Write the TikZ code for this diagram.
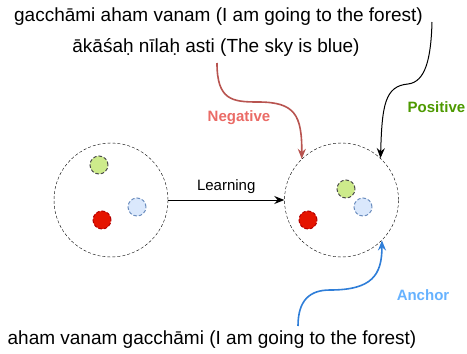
\documentclass[tikz,border=0pt]{standalone}
\usepackage{fontspec}
\setmainfont{Liberation Sans}
\usetikzlibrary{arrows.meta}
\definecolor{negline}{HTML}{B85450}
\definecolor{negtext}{HTML}{EA6B66}
\definecolor{postext}{HTML}{4D9900}
\definecolor{ancline}{HTML}{2F7ED8}
\definecolor{anctext}{HTML}{66B2FF}
\definecolor{greenfill}{HTML}{CDEB8B}
\definecolor{bluefill}{HTML}{DAE8FC}
\definecolor{blueline}{HTML}{6C8EBF}
\definecolor{redfill}{HTML}{E51400}
\definecolor{redline}{HTML}{B20000}
\tikzset{
  sentence/.style={font=\fontsize{19}{22}\selectfont, inner sep=0pt, anchor=base},
  lbl/.style={font=\fontsize{15}{18}\selectfont\bfseries, inner sep=0pt},
  space/.style={circle, draw, dashed, dash pattern=on 3pt off 2pt, minimum size=114pt, inner sep=0pt},
  dot/.style={circle, dashed, dash pattern=on 3.5pt off 2pt, line width=1pt, minimum size=18pt, inner sep=0pt},
  gdot/.style={dot, draw=black!70, fill=greenfill},
  bdot/.style={dot, draw=blueline, fill=bluefill},
  rdot/.style={dot, draw=redline, fill=redfill},
  conn/.style={line width=1pt, -{Stealth[length=10pt,width=8pt]}},
  thickconn/.style={line width=1.6pt, -{Stealth[length=10pt,width=8pt]}},
}
\begin{document}
\begin{tikzpicture}[x=1pt,y=-1pt]
\useasboundingbox (0,0) rectangle (467,354);
% sentences
\node[sentence] (s1) at (218.5,21) {gacchāmi aham vanam (I am going to the forest)};
\node[sentence] (s2) at (216,52) {ākāśaḥ nīlaḥ asti (The sky is blue)};
\node[sentence] (s3) at (212,344) {aham vanam gacchāmi (I am going to the forest)};
% spaces
\node[space] (L) at (111,200) {};
\node[space] (R) at (341.5,200) {};
% left dots
\node[gdot] (lg) at (99,165) {};
\node[bdot] (lb) at (137,207) {};
\node[rdot] (lr) at (102,220) {};
% right dots
\node[gdot] (rg) at (346,189) {};
\node[bdot] (rb) at (363,207) {};
\node[rdot] (rr) at (308,220) {};
% learning
\draw[conn] (L.east) -- node[above=6pt, font=\fontsize{15}{18}\selectfont, inner sep=0pt] (learn) {Learning} (R.west);
% endpoints
\coordinate (negstart) at (217,63);
\coordinate (negend) at (R.134);
\coordinate (posstart) at (432,22);
\coordinate (posend) at (R.47);
\coordinate (ancstart) at (298,326);
\coordinate (ancend) at (R.-45);
\draw[thickconn, draw=negline] (negstart) .. controls (217,100) and (232,102) .. (258,102) .. controls (295,102) and (302,115) .. (negend);
\draw[conn] (posstart) .. controls (431,60) and (425,82) .. (408,84) .. controls (385,86) and (382,105) .. (posend);
\draw[thickconn, draw=ancline] (ancstart) .. controls (298,300) and (310,290) .. (330,290) .. controls (372,290) and (382,275) .. (ancend);
% labels
\node[lbl, text=negtext] (neg) at (239,118) {Negative};
\node[lbl, text=postext] (pos) at (436.5,107) {Positive};
\node[lbl, text=anctext] (anc) at (423,295) {Anchor};
\end{tikzpicture}
\end{document}
